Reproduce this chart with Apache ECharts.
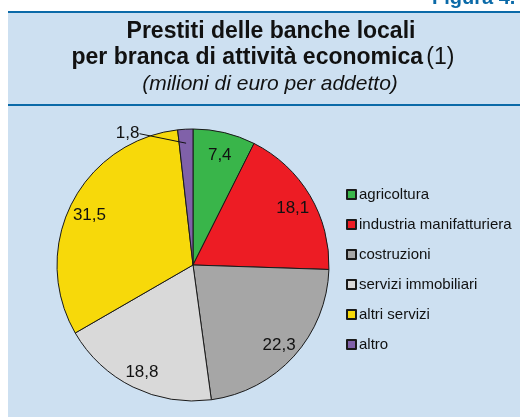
<!DOCTYPE html>
<html>
<head>
<meta charset="utf-8">
<script src="https://cdn.jsdelivr.net/npm/echarts@6/dist/echarts.min.js"></script>
<style>
  html, body { margin: 0; padding: 0; background: #fff; }
  #chart { width: 520px; height: 418px; }
</style>
</head>
<body>
<div id="chart"></div>
<script>
// dati del grafico
const categories = ['agricoltura', 'industria manifatturiera', 'costruzioni', 'servizi immobiliari', 'altri servizi', 'altro']
const values = [7.4, 18.1, 22.3, 18.8, 31.5, 1.8]
const colors = ['#39b54a', '#ed1c24', '#a6a6a6', '#d9d9d9', '#f7d90a', '#8061a9']

const FONT = '"Liberation Sans", Arial, sans-serif'
const CENTER = [193, 265]
const R = 136

const fmt = v => String(v).replace('.', ',')

const pieData = categories.map((name, i) => ({
  name: name,
  value: values[i],
  itemStyle: { color: colors[i] },
}))

// etichette interne (tutte tranne "altro")
const innerLabels = categories.map((name, i) => ({
  name: name,
  value: values[i],
  label: { show: i < 5 },
}))

// etichetta esterna per "altro"
const outerLabels = categories.map((name, i) => ({
  name: name,
  value: values[i],
  label: { show: i === 5 },
  labelLine: { show: i === 5 },
}))

const chart = echarts.init(document.getElementById('chart'), null, { renderer: 'canvas' })

const option = {
  backgroundColor: '#ffffff',
  animation: false,
  graphic: [
    // pannello
    { type: 'rect', shape: { x: 8, y: 11, width: 512, height: 406 }, style: { fill: '#cde0f1' }, z: -10 },
    { type: 'rect', shape: { x: 8, y: 11, width: 512, height: 2 }, style: { fill: '#0b6aa8' }, z: -9 },
    { type: 'rect', shape: { x: 8, y: 104, width: 512, height: 2 }, style: { fill: '#0b6aa8' }, z: -9 },
    {
      type: 'text', x: 432, y: 8, z: 5,
      style: { text: 'Figura 4.', font: 'bold 20px ' + FONT, fill: '#0b6aa8', textVerticalAlign: 'bottom' },
    },
    {
      type: 'text', x: 271, y: 43, z: 5,
      style: {
        text: 'Prestiti delle banche locali', font: 'bold 23px ' + FONT, fill: '#111',
        textAlign: 'center', textVerticalAlign: 'bottom',
      },
    },
    {
      type: 'text', x: 263, y: 69, z: 5,
      style: {
        text: '{b|per branca di attività economica} {n|(1)}',
        textAlign: 'center', textVerticalAlign: 'bottom',
        rich: {
          b: { font: 'bold 23px ' + FONT, fill: '#111' },
          n: { font: '23px ' + FONT, fill: '#111' },
        },
      },
    },
    {
      type: 'text', x: 270, y: 95, z: 5,
      style: {
        text: '(milioni di euro per addetto)', font: 'italic 21px ' + FONT, fill: '#111',
        textAlign: 'center', textVerticalAlign: 'bottom',
      },
    },
  ],
  legend: {
    orient: 'vertical',
    left: 341,
    top: 182,
    itemWidth: 9,
    itemHeight: 9,
    itemGap: 15,
    icon: 'rect',
    data: categories,
    selectedMode: false,
    textStyle: { fontFamily: FONT, fontSize: 15, color: '#111', padding: [0, 0, 0, -2] },
  },
  series: [
    {
      type: 'pie',
      center: CENTER,
      radius: [0, R],
      startAngle: 90,
      clockwise: true,
      silent: true,
      label: { show: false },
      labelLine: { show: false },
      itemStyle: { borderColor: '#1a1a1a', borderWidth: 1 },
      data: pieData,
      z: 1,
    },
    {
      type: 'pie',
      center: CENTER,
      radius: [90, R],
      startAngle: 90,
      clockwise: true,
      silent: true,
      itemStyle: { color: 'transparent', borderWidth: 0 },
      label: {
        position: 'inside',
        fontFamily: FONT,
        fontSize: 17,
        color: '#111',
        formatter: p => fmt(p.value),
      },
      labelLine: { show: false },
      labelLayout: function (p) {
        return { y: p.labelRect.y + p.labelRect.height / 2 + 3 }
      },
      data: innerLabels,
      z: 2,
    },
    {
      type: 'pie',
      center: CENTER,
      radius: [0, 122],
      startAngle: 90,
      clockwise: true,
      silent: true,
      itemStyle: { color: 'transparent', borderWidth: 0 },
      label: {
        position: 'outside',
        fontFamily: FONT,
        fontSize: 17,
        color: '#111',
        formatter: p => fmt(p.value),
      },
      labelLine: { length: 0, length2: 0, lineStyle: { color: '#111', width: 1 } },
      labelLayout: function (p) {
        return { x: p.labelRect.x - 18, y: p.labelRect.y - 1 }
      },
      data: outerLabels,
      z: 3,
    },
  ],
}

chart.setOption(option)
</script>
</body>
</html>
